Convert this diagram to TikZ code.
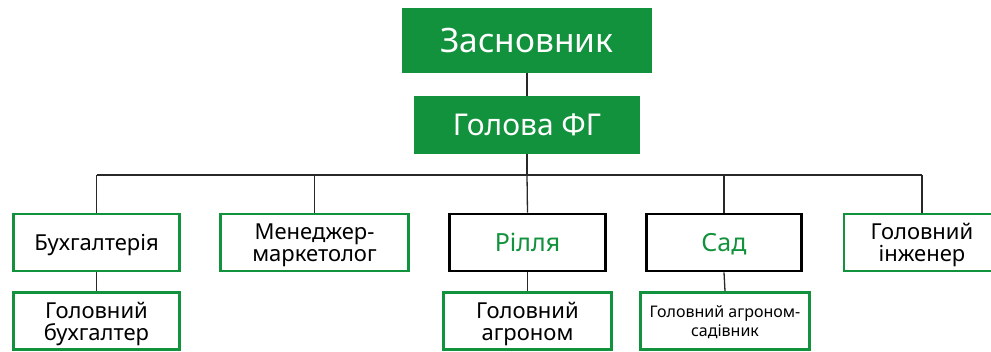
\documentclass[tikz,border=0pt]{standalone}
\usepackage{fontspec}
\setmainfont{Noto Sans}
\definecolor{fggreen}{RGB}{18,146,60}
\definecolor{fgline}{RGB}{40,40,40}

\begin{document}
\begin{tikzpicture}[x=1pt,y=-1pt,
  topbox/.style={fill=fggreen,text=white,inner sep=0pt},
  unitbox/.style={fill=white,line width=2.6pt,inner sep=0pt,align=center,
    minimum height=57pt,text depth=0pt,font=\fontsize{22}{22}\selectfont},
  greenbox/.style={unitbox,draw=fggreen},
  blackbox/.style={unitbox,draw=black,text=fggreen,font=\fontsize{25}{26}\selectfont},
  link/.style={draw=fgline,line width=1.3pt}]
\useasboundingbox (0,0) rectangle (991,351);
% top of the tree
\node[topbox,minimum width=250pt,minimum height=65pt,font=\fontsize{33.5}{36}\selectfont] (founder) at (527,40.5) {Засновник};
\node[topbox,minimum width=226pt,minimum height=58pt,font=\fontsize{30}{32}\selectfont] (head) at (527,125) {Голова ФГ};
\coordinate (bus) at (527,175);
% second row
\node[greenbox,minimum width=166pt] (acc) at (96.5,242.5) {Бухгалтерія};
\node[greenbox,minimum width=188pt] (mkt) at (314.5,242.5) {Менеджер-\\маркетолог};
\node[blackbox,minimum width=156pt] (field) at (527.5,242.5) {Рілля};
\node[blackbox,minimum width=155pt] (garden) at (724,242.5) {Сад};
\node[greenbox,minimum width=156pt] (eng) at (922,242.5) {Головний\\інженер}; % cut off at the right edge
% third row
\node[greenbox,minimum width=166pt] (chacc) at (96.5,321) {Головний\\бухгалтер};
\node[greenbox,minimum width=168pt] (agr) at (527.5,321) {Головний\\агроном};
\node[greenbox,minimum width=169pt,font=\fontsize{16}{19.5}\selectfont] (gagr) at (725,321) {Головний агроном-\\садівник};
% connectors
\draw[link] (founder.south) -- (head.north);
\draw[link] (head.south) -- (bus);
\draw[link] (bus -| acc.north) -- (bus -| eng.north);
\draw[link] (bus -| acc.north) -- (acc.north);
\draw[link] (bus -| mkt.north) -- (mkt.north);
\draw[link] (bus) -- (field.north);
\draw[link] (bus -| garden.north) -- (garden.north);
\draw[link] (bus -| eng.north) -- (eng.north);
\draw[link] (acc.south) -- (chacc.north);
\draw[link] (field.south) -- (agr.north);
\draw[link] (garden.south) -- (gagr.north);
\end{tikzpicture}
\end{document}
